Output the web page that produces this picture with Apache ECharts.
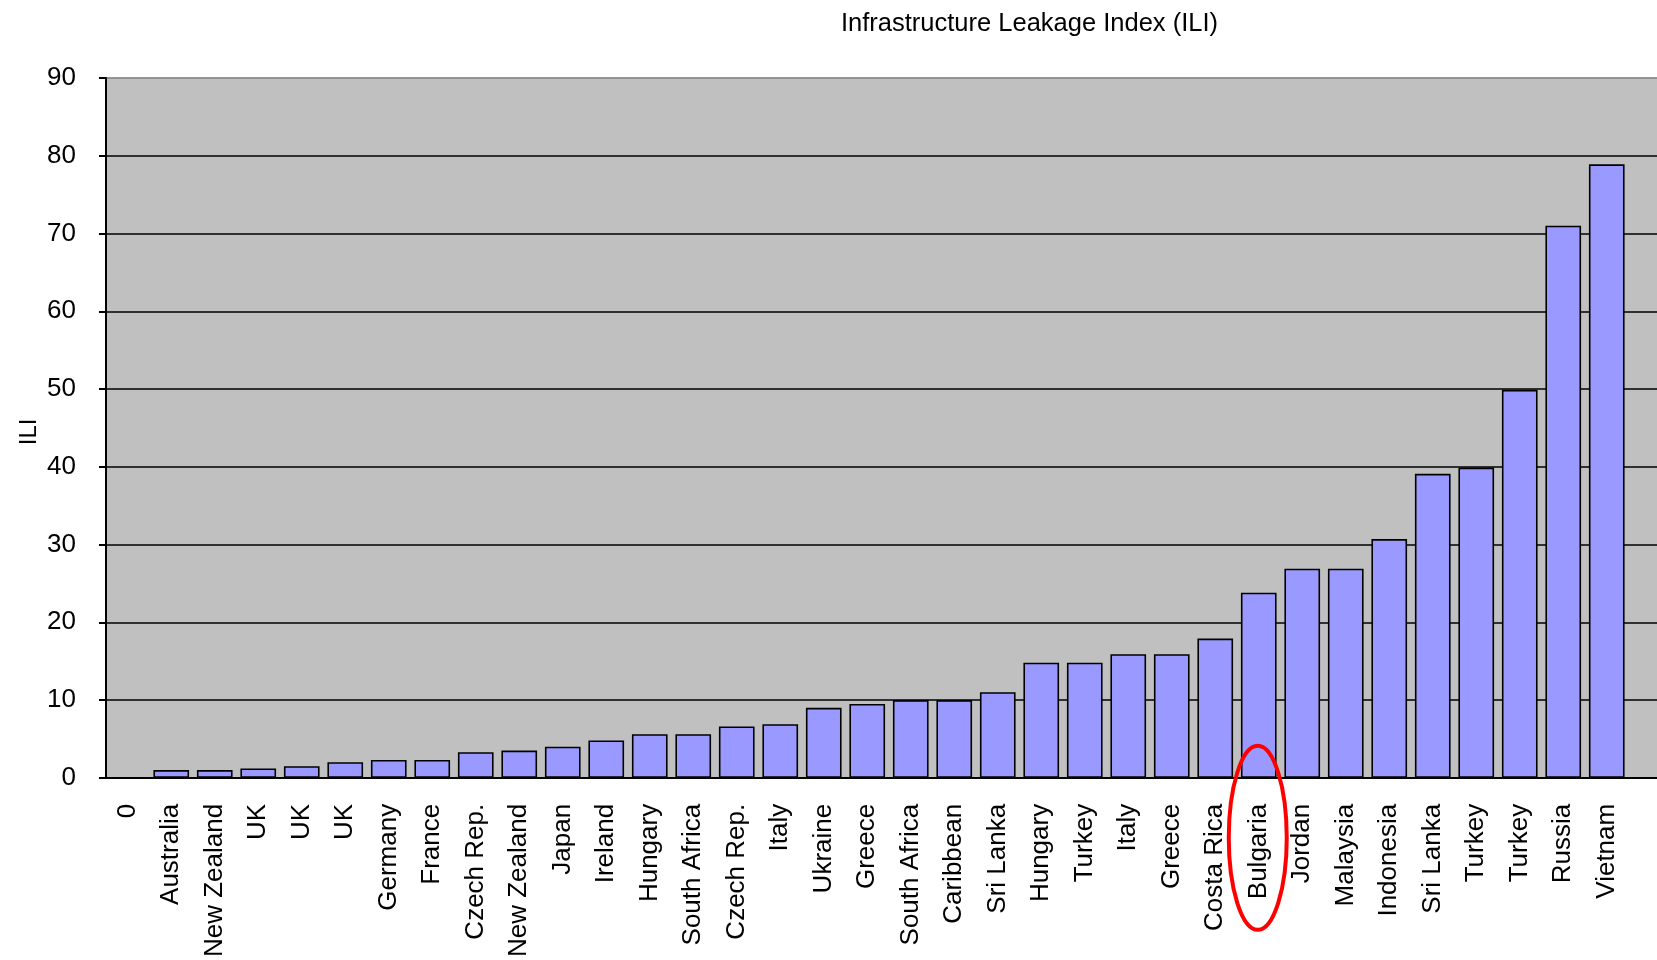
<!DOCTYPE html>
<html>
<head>
<meta charset="utf-8">
<script src="https://cdn.jsdelivr.net/npm/echarts@6/dist/echarts.min.js"></script>
<style>
  html, body { margin: 0; padding: 0; background: #fff; overflow: hidden; }
  /* a little wider than the window: the plot runs past the right edge like the original */
  #chart { width: 1672px; height: 960px; }
</style>
</head>
<body>
<div id="chart"></div>
<script>
// categories as listed under the bars (last one is an empty slot cut off at the edge)
const categories = [
  '0', 'Australia', 'New Zealand', 'UK', 'UK', 'UK', 'Germany', 'France',
  'Czech Rep.', 'New Zealand', 'Japan', 'Ireland', 'Hungary', 'South Africa',
  'Czech Rep.', 'Italy', 'Ukraine', 'Greece', 'South Africa', 'Caribbean',
  'Sri Lanka', 'Hungary', 'Turkey', 'Italy', 'Greece', 'Costa Rica',
  'Bulgaria', 'Jordan', 'Malaysia', 'Indonesia', 'Sri Lanka', 'Turkey',
  'Turkey', 'Russia', 'Vietnam', ''
]
const ili = [
  null, 1.0, 1.0, 1.2, 1.5, 2.0, 2.3, 2.3,
  3.3, 3.5, 4.0, 4.8, 5.6, 5.6,
  6.6, 6.9, 9.0, 9.5, 10, 10,
  11, 14.8, 14.8, 15.9, 15.9, 17.9,
  23.8, 26.9, 26.9, 30.7, 39.1, 39.9,
  49.9, 71, 78.9, null
]
const yMin = 0
const yMax = 90
const yStep = 10
const yName = 'ILI'
const highlighted = 'Bulgaria'

const font = '"Liberation Sans", Arial, sans-serif'
const chart = echarts.init(document.getElementById('chart'))

// black grid lines, the top one grey like the frame
const splitColors = []
for (let v = yMin; v <= yMax; v += yStep) splitColors.push(v === yMax ? '#8a8a8a' : '#000')

const option = {
  animation: false,
  title: {
    text: 'Infrastructure Leakage Index (ILI)',
    left: 836,
    top: 6,
    textStyle: { fontFamily: font, fontSize: 25.5, fontWeight: 'normal', color: '#000' },
  },
  grid: {
    left: 106,
    top: 78,
    right: 0,
    bottom: 182,
    show: true,
    backgroundColor: '#c0c0c0',
    borderColor: '#8a8a8a',
    borderWidth: 1,
  },
  xAxis: {
    type: 'category',
    data: categories,
    axisLine: { lineStyle: { color: '#000', width: 2 } },
    axisTick: { length: 8, lineStyle: { color: '#000', width: 2 } },
    axisLabel: {
      interval: 0,
      rotate: 90,
      margin: 26,
      fontFamily: font,
      fontSize: 26,
      color: '#000',
    },
  },
  yAxis: {
    type: 'value',
    min: yMin,
    max: yMax,
    interval: yStep,
    axisLine: { show: true, lineStyle: { color: '#000', width: 2 } },
    axisTick: { show: true, length: 7, lineStyle: { color: '#000', width: 2 } },
    axisLabel: { margin: 30, fontFamily: font, fontSize: 26, color: '#000' },
    splitLine: { show: true, lineStyle: { color: splitColors, width: 1.6 } },
  },
  series: [
    {
      type: 'bar',
      data: ili,
      barCategoryGap: '18%',
      itemStyle: { color: '#9999ff', borderColor: '#000', borderWidth: 1.6 },
    },
  ],
}

chart.setOption(option)

// axis title sits closer to the labels than echarts puts it, so place it by hand
const x0 = chart.convertToPixel({ xAxisIndex: 0 }, categories[0]) - 86 / 2
const yMid = chart.convertToPixel({ yAxisIndex: 0 }, (yMin + yMax) / 2)
// red ring round the highlighted label
const cx = chart.convertToPixel({ xAxisIndex: 0 }, highlighted)
const y0 = chart.convertToPixel({ yAxisIndex: 0 }, 0)
chart.setOption({
  graphic: [
    {
      type: 'text',
      x: 29,
      y: yMid + 4,
      rotation: Math.PI / 2,
      style: {
        text: yName,
        fontFamily: font,
        fontSize: 24,
        fill: '#000',
        align: 'center',
        verticalAlign: 'middle',
      },
    },
    {
      type: 'ellipse',
      z: 100,
      shape: { cx: cx - 1, cy: y0 + 60, rx: 29, ry: 92 },
      style: { fill: 'none', stroke: '#ff0000', lineWidth: 4 },
    },
  ],
})
</script>
</body>
</html>
